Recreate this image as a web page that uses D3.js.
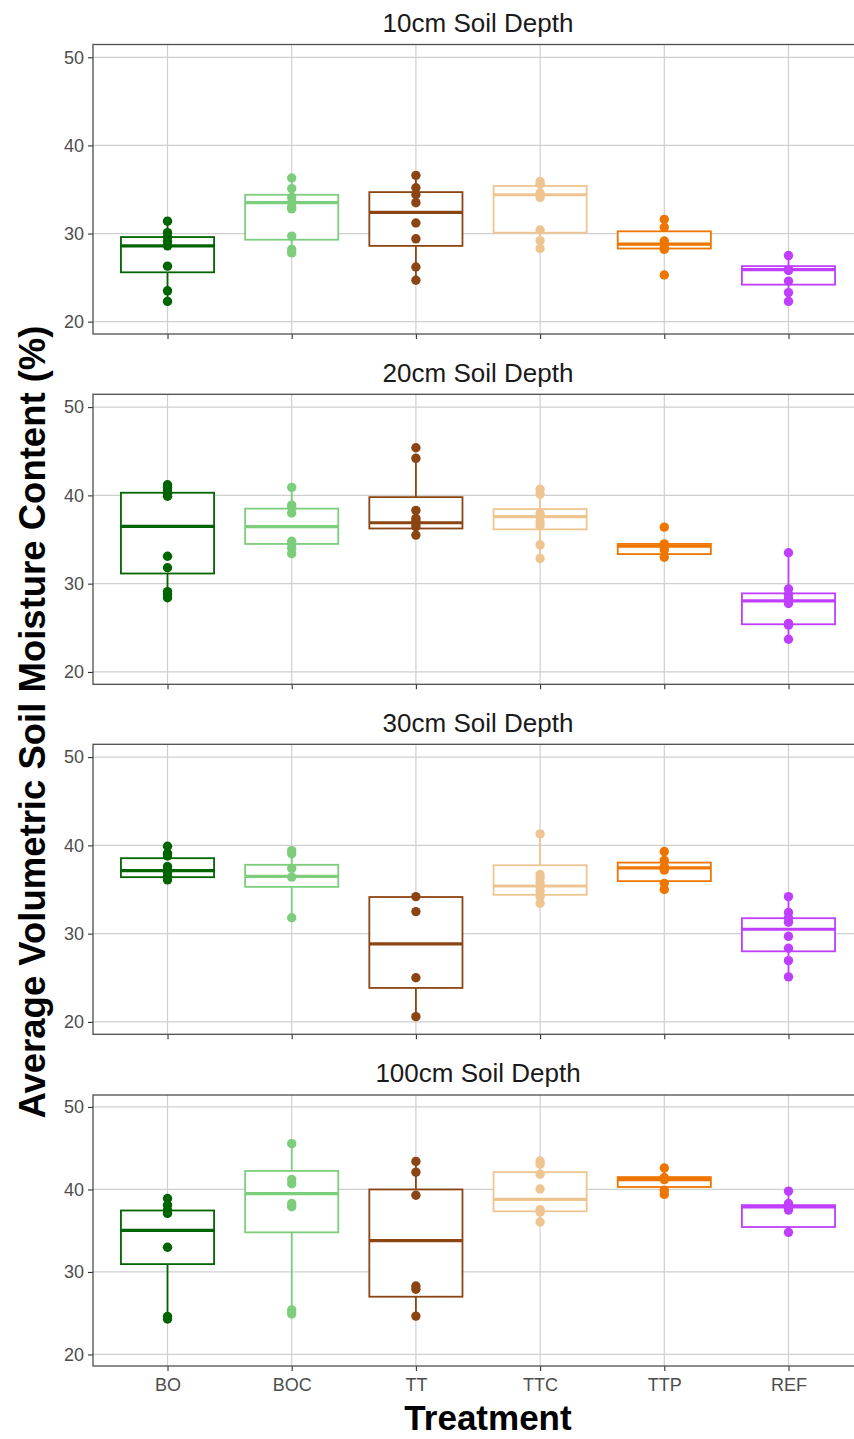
<!DOCTYPE html>
<html>
<head>
<meta charset="utf-8">
<script src="https://cdn.jsdelivr.net/npm/d3@7"></script>
<style>
  html, body { margin: 0; padding: 0; background: #ffffff; }
  svg { display: block; font-family: "Liberation Sans", Arial, Helvetica, sans-serif; }
</style>
</head>
<body>
<svg id="chart" width="854" height="1439"></svg>
<script>
// Treatments along the x axis and their colours
const treatments = ["BO", "BOC", "TT", "TTC", "TTP", "REF"];
const treatmentColors = ["#006400", "#7CCD7C", "#8B4513", "#EEC591", "#EE7600", "#BF3EFF"];

// Facet titles (one panel per soil depth)
const depths = ["10cm Soil Depth", "20cm Soil Depth", "30cm Soil Depth", "100cm Soil Depth"];

// Y axis ticks
const yTicks = [20, 30, 40, 50];

// Box summaries per treatment: [lower whisker, Q1, median, Q3, upper whisker]
const stats10cm = [
  [22.3, 25.6, 28.6, 29.6, 31.4],
  [27.8, 29.3, 33.5, 34.4, 36.3],
  [24.7, 28.6, 32.4, 34.7, 36.6],
  [28.3, 30.1, 34.4, 35.4, 35.9],
  [28.2, 28.3, 28.8, 30.25, 31.6],
  [22.3, 24.2, 25.9, 26.3, 27.5]
];
const stats20cm = [
  [28.4, 31.15, 36.5, 40.3, 41.2],
  [33.4, 34.5, 36.45, 38.5, 40.9],
  [35.5, 36.25, 36.9, 39.8, 44.2],
  [32.85, 36.15, 37.6, 38.45, 40.7],
  [33.0, 33.35, 34.25, 34.5, 34.5],
  [23.7, 25.4, 28.05, 28.9, 33.5]
];
const stats30cm = [
  [36.1, 36.4, 37.15, 38.55, 39.9],
  [31.8, 35.3, 36.5, 37.8, 39.4],
  [20.6, 23.85, 28.85, 34.15, 34.2],
  [33.45, 34.4, 35.4, 37.75, 41.3],
  [35.0, 35.95, 37.45, 38.05, 39.3],
  [25.1, 28.0, 30.5, 31.75, 34.2]
];
const stats100cm = [
  [24.3, 30.95, 35.05, 37.45, 38.9],
  [24.9, 34.8, 39.5, 42.25, 45.55],
  [24.65, 27.0, 33.8, 40.0, 43.4],
  [36.05, 37.35, 38.8, 42.1, 43.45],
  [39.4, 40.3, 41.2, 41.5, 42.6],
  [34.8, 35.45, 37.9, 38.1, 39.8]
];

// Individual plot observations per treatment
const points10cm = [
  [31.4, 30.1, 29.6, 29.1, 28.6, 26.3, 23.5, 22.3],
  [36.3, 35.1, 34.1, 33.5, 33.0, 32.8, 29.7, 28.2, 27.8],
  [36.6, 35.2, 34.4, 33.5, 31.2, 29.4, 26.2, 24.7],
  [35.9, 35.6, 34.6, 34.1, 30.4, 29.2, 28.3],
  [31.6, 30.7, 29.15, 28.8, 28.4, 28.2, 25.3],
  [27.5, 25.9, 25.8, 24.6, 23.3, 22.3]
];
const points20cm = [
  [41.2, 40.9, 40.6, 40.15, 39.9, 33.1, 31.8, 29.1, 28.8, 28.4],
  [40.9, 38.9, 38.6, 38.0, 34.8, 34.5, 34.0, 33.4],
  [45.4, 44.2, 38.3, 37.4, 37.1, 36.8, 36.45, 35.5],
  [40.7, 40.15, 37.95, 37.6, 37.0, 36.6, 34.4, 32.85],
  [36.4, 34.5, 34.2, 33.8, 33.0],
  [33.5, 29.4, 28.8, 28.3, 27.75, 25.5, 25.3, 23.7]
];
const points30cm = [
  [39.9, 39.1, 38.8, 37.6, 37.2, 36.9, 36.5, 36.1],
  [39.4, 39.05, 37.4, 36.4, 31.8],
  [34.2, 32.5, 25.0, 20.6],
  [41.3, 36.7, 36.3, 35.8, 35.35, 34.8, 34.2, 33.45],
  [39.3, 38.3, 37.6, 37.2, 35.7, 35.0],
  [34.2, 32.4, 31.8, 31.3, 29.7, 28.35, 26.95, 25.1]
];
const points100cm = [
  [38.9, 38.1, 37.5, 37.1, 33.0, 24.6, 24.3],
  [45.55, 41.2, 40.7, 38.3, 37.9, 25.4, 24.9],
  [43.4, 42.1, 39.3, 28.3, 27.9, 24.65],
  [43.45, 43.05, 41.85, 40.05, 37.55, 37.25, 36.05],
  [42.6, 41.45, 41.2, 39.9, 39.4],
  [39.8, 38.3, 37.95, 37.5, 34.8]
];

const allStats = [stats10cm, stats20cm, stats30cm, stats100cm];
const allPoints = [points10cm, points20cm, points30cm, points100cm];

// ---- layout ----
const svg = d3.select("#chart");
const W = 854, H = 1439;
svg.append("rect").attr("width", W).attr("height", H).attr("fill", "#ffffff");

const panelLeft = 93, panelRight = 863;
const panelFrames = [
  { top: 44.5, bottom: 334 },
  { top: 394.3, bottom: 684.3 },
  { top: 744.3, bottom: 1034.3 },
  { top: 1095, bottom: 1366 }
];
const yDomain = [18.6, 51.45];

const x = d3.scalePoint().domain(treatments).range([panelLeft, panelRight]).padding(0.6);
const boxWidth = x.step() * 0.75;
const color = d3.scaleOrdinal().domain(treatments).range(treatmentColors);

const gridColor = "#cfcfcf";
const borderColor = "#4d4d4d";
const tickTextColor = "#4d4d4d";

depths.forEach((title, i) => {
  const frame = panelFrames[i];
  const y = d3.scaleLinear().domain(yDomain).range([frame.bottom, frame.top]);
  const g = svg.append("g");

  // grid lines
  g.selectAll("line.hgrid").data(yTicks).join("line")
    .attr("x1", panelLeft).attr("x2", panelRight)
    .attr("y1", d => y(d)).attr("y2", d => y(d))
    .attr("stroke", gridColor).attr("stroke-width", 1.2);
  g.selectAll("line.vgrid").data(treatments).join("line")
    .attr("x1", d => x(d)).attr("x2", d => x(d))
    .attr("y1", frame.top).attr("y2", frame.bottom)
    .attr("stroke", gridColor).attr("stroke-width", 1.2);

  // y axis
  const yAxis = d3.axisLeft(y).tickValues(yTicks).tickSize(5).tickPadding(4);
  const ya = g.append("g").attr("transform", `translate(${panelLeft},0)`).call(yAxis);
  ya.select(".domain").remove();
  ya.selectAll(".tick line").attr("stroke", "#333333").attr("stroke-width", 1.1);
  ya.selectAll(".tick text").attr("fill", tickTextColor)
    .style("font-size", "18px").style("font-family", "Liberation Sans, Arial, sans-serif");

  // x axis (labels only on the bottom panel)
  const xAxis = d3.axisBottom(x).tickSize(5).tickPadding(7);
  const xa = g.append("g").attr("transform", `translate(0,${frame.bottom})`).call(xAxis);
  xa.select(".domain").remove();
  xa.selectAll(".tick line").attr("stroke", "#333333").attr("stroke-width", 1.1);
  xa.selectAll(".tick text").attr("fill", tickTextColor)
    .style("font-size", "18px").style("font-family", "Liberation Sans, Arial, sans-serif");
  if (i < depths.length - 1) xa.selectAll(".tick text").remove();

  // boxes
  const stats = allStats[i];
  treatments.forEach((t, j) => {
    const [lo, q1, med, q3, hi] = stats[j];
    const cx = x(t), c = color(t);
    const bg = g.append("g");
    bg.append("line").attr("x1", cx).attr("x2", cx).attr("y1", y(q3)).attr("y2", y(hi))
      .attr("stroke", c).attr("stroke-width", 1.8);
    bg.append("line").attr("x1", cx).attr("x2", cx).attr("y1", y(q1)).attr("y2", y(lo))
      .attr("stroke", c).attr("stroke-width", 1.8);
    bg.append("rect")
      .attr("x", cx - boxWidth / 2).attr("width", boxWidth)
      .attr("y", y(q3)).attr("height", y(q1) - y(q3))
      .attr("fill", "#ffffff").attr("stroke", c).attr("stroke-width", 1.8);
    bg.append("line")
      .attr("x1", cx - boxWidth / 2).attr("x2", cx + boxWidth / 2)
      .attr("y1", y(med)).attr("y2", y(med))
      .attr("stroke", c).attr("stroke-width", 3.2);
  });

  // observations
  const pts = allPoints[i];
  treatments.forEach((t, j) => {
    g.selectAll(null).data(pts[j]).join("circle")
      .attr("cx", x(t)).attr("cy", d => y(d)).attr("r", 4.7)
      .attr("fill", color(t));
  });

  // panel border
  g.append("rect")
    .attr("x", panelLeft).attr("y", frame.top)
    .attr("width", panelRight - panelLeft).attr("height", frame.bottom - frame.top)
    .attr("fill", "none").attr("stroke", borderColor).attr("stroke-width", 1.3);

  // panel title
  svg.append("text")
    .attr("x", (panelLeft + panelRight) / 2).attr("y", frame.top - 12.8)
    .attr("text-anchor", "middle").attr("fill", "#1a1a1a")
    .style("font-size", "26px")
    .text(title);
});

// axis titles
svg.append("text")
  .attr("transform", `translate(45,722) rotate(-90)`)
  .attr("text-anchor", "middle").attr("fill", "#000000")
  .style("font-size", "36.5px").style("font-weight", "bold")
  .text("Average Volumetric Soil Moisture Content (%)");

svg.append("text")
  .attr("x", 488).attr("y", 1430)
  .attr("text-anchor", "middle").attr("fill", "#000000")
  .style("font-size", "35px").style("font-weight", "bold")
  .text("Treatment");
</script>
</body>
</html>
